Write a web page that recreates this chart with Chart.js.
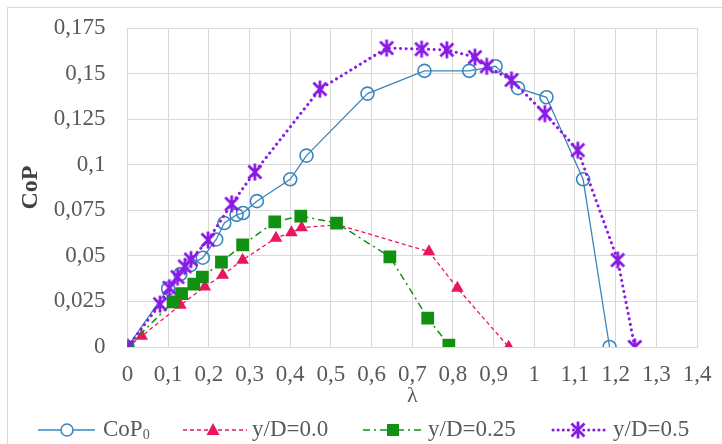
<!DOCTYPE html>
<html>
<head>
<meta charset="utf-8">
<script src="https://cdn.jsdelivr.net/npm/chart.js"></script>
<style>
  html, body { margin: 0; padding: 0; background: #fff; }
  #wrap { width: 722px; height: 444px; }
</style>
</head>
<body>
<div id="wrap"><canvas id="chart" width="722" height="444"></canvas></div>
<script>
// values
const copX = [0, 0.1, 0.13, 0.155, 0.185, 0.218, 0.238, 0.268, 0.284, 0.318, 0.4, 0.44, 0.59, 0.73, 0.84, 0.905, 0.96, 1.03, 1.12, 1.185];
const copY = [0, 0.032, 0.04, 0.045, 0.049, 0.059, 0.068, 0.0725, 0.0735, 0.08, 0.092, 0.105, 0.139, 0.1515, 0.1515, 0.154, 0.142, 0.137, 0.092, 0];

const d00X = [0, 0.035, 0.13, 0.19, 0.234, 0.283, 0.365, 0.403, 0.428, 0.518, 0.741, 0.811, 0.937];
const d00Y = [0, 0.006, 0.023, 0.033, 0.0395, 0.0477, 0.0598, 0.0628, 0.0655, 0.067, 0.0523, 0.0323, 0];

const d25X = [0, 0.112, 0.133, 0.163, 0.184, 0.231, 0.283, 0.362, 0.426, 0.514, 0.645, 0.738, 0.79];
const d25Y = [0, 0.0248, 0.0293, 0.0345, 0.0384, 0.0466, 0.056, 0.0687, 0.0718, 0.068, 0.0495, 0.0159, 0.001];

const d50X = [0, 0.08, 0.103, 0.123, 0.141, 0.156, 0.198, 0.256, 0.313, 0.473, 0.637, 0.723, 0.785, 0.854, 0.883, 0.944, 1.026, 1.107, 1.205, 1.247];
const d50Y = [0, 0.0235, 0.0325, 0.0384, 0.0442, 0.048, 0.0587, 0.0785, 0.096, 0.1415, 0.164, 0.1634, 0.163, 0.159, 0.154, 0.1465, 0.128, 0.108, 0.0477, 0];

const seriesNames = ['CoP', 'y/D=0.0', 'y/D=0.25', 'y/D=0.5'];
const xTickLabels = ['0', '0,1', '0,2', '0,3', '0,4', '0,5', '0,6', '0,7', '0,8', '0,9', '1', '1,1', '1,2', '1,3', '1,4'];
const yTickLabels = ['0', '0,025', '0,05', '0,075', '0,1', '0,125', '0,15', '0,175'];

const BLUE = '#3b86bd';
const PINK = '#e8175d';
const GREEN = '#119111';
const PURPLE = '#8b19e6';
const SERIF = '"Liberation Serif", "Times New Roman", serif';

function points(xs, ys) {
    return xs.map((x, i) => ({ x: x, y: ys[i] }));
}

// Excel-like asterisk marker (X plus a vertical bar)
function drawStar(ctx, x, y) {
    ctx.save();
    ctx.strokeStyle = PURPLE;
    ctx.lineWidth = 2.8;
    ctx.lineCap = 'butt';
    ctx.beginPath();
    ctx.moveTo(x - 6.5, y - 6.5); ctx.lineTo(x + 6.5, y + 6.5);
    ctx.moveTo(x + 6.5, y - 6.5); ctx.lineTo(x - 6.5, y + 6.5);
    ctx.moveTo(x, y - 8.5); ctx.lineTo(x, y + 8.5);
    ctx.stroke();
    ctx.restore();
}
const starImg = document.createElement('canvas');
starImg.width = 20;
starImg.height = 20;
drawStar(starImg.getContext('2d'), 10, 10);

// light frame round the whole figure
const framePlugin = {
    id: 'frame',
    beforeDraw(chart) {
        const ctx = chart.ctx;
        ctx.save();
        ctx.fillStyle = '#fff';
        ctx.fillRect(0, 0, chart.width, chart.height);
        ctx.strokeStyle = '#d9d9d9';
        ctx.lineWidth = 1;
        ctx.strokeRect(7.5, 7.5, 760, 480);
        ctx.restore();
    }
};

// legend with line + marker, as in Excel
const legendPlugin = {
    id: 'lineLegend',
    afterDraw(chart) {
        const ctx = chart.ctx;
        const y = 430;
        ctx.save();
        ctx.font = '23px ' + SERIF;
        ctx.fillStyle = '#595959';
        ctx.textBaseline = 'middle';

        // CoP0
        ctx.strokeStyle = BLUE;
        ctx.lineWidth = 1.5;
        ctx.beginPath(); ctx.moveTo(38, y); ctx.lineTo(95, y); ctx.stroke();
        ctx.beginPath(); ctx.arc(67, y, 6, 0, Math.PI * 2); ctx.fillStyle = '#fff'; ctx.fill(); ctx.stroke();
        ctx.fillStyle = '#595959';
        ctx.fillText(seriesNames[0], 103, y);
        const w = ctx.measureText(seriesNames[0]).width;
        ctx.font = '14px ' + SERIF;
        ctx.fillText('0', 103 + w, y + 5);
        ctx.font = '23px ' + SERIF;

        // y/D=0.0
        ctx.strokeStyle = PINK;
        ctx.lineWidth = 1.3;
        ctx.setLineDash([4, 3]);
        ctx.beginPath(); ctx.moveTo(183, y); ctx.lineTo(247, y); ctx.stroke();
        ctx.setLineDash([]);
        ctx.fillStyle = PINK;
        ctx.beginPath(); ctx.moveTo(213, y - 7); ctx.lineTo(219.5, y + 5); ctx.lineTo(206.5, y + 5); ctx.closePath(); ctx.fill();
        ctx.fillStyle = '#595959';
        ctx.fillText(seriesNames[1], 252, y);

        // y/D=0.25
        ctx.strokeStyle = GREEN;
        ctx.lineWidth = 1.5;
        ctx.setLineDash([7, 4, 2, 4]);
        ctx.beginPath(); ctx.moveTo(363, y); ctx.lineTo(423, y); ctx.stroke();
        ctx.setLineDash([]);
        ctx.fillStyle = GREEN;
        ctx.fillRect(387, y - 6, 12, 12);
        ctx.fillStyle = '#595959';
        ctx.fillText(seriesNames[2], 428, y);

        // y/D=0.5
        ctx.strokeStyle = PURPLE;
        ctx.lineWidth = 3;
        ctx.lineCap = 'round';
        ctx.setLineDash([0.1, 5]);
        ctx.beginPath(); ctx.moveTo(553, y); ctx.lineTo(605, y); ctx.stroke();
        ctx.setLineDash([]);
        drawStar(ctx, 578, y);
        ctx.fillStyle = '#595959';
        ctx.fillText(seriesNames[3], 613, y);
        ctx.restore();
    }
};

const ctx = document.getElementById('chart').getContext('2d');
new Chart(ctx, {
    type: 'scatter',
    data: {
        datasets: [
            {
                label: seriesNames[0],
                data: points(copX, copY),
                showLine: true,
                order: 4,
                borderColor: BLUE,
                borderWidth: 1.3,
                pointStyle: 'circle',
                pointRadius: 6.5,
                pointBorderWidth: 1.6,
                pointBorderColor: BLUE,
                pointBackgroundColor: 'rgba(255,255,255,0)'
            },
            {
                label: seriesNames[1],
                data: points(d00X, d00Y),
                showLine: true,
                order: 3,
                borderColor: PINK,
                borderWidth: 1.3,
                borderDash: [4, 3],
                pointStyle: 'triangle',
                pointRadius: 7.3,
                pointBorderWidth: 0,
                pointBackgroundColor: PINK
            },
            {
                label: seriesNames[2],
                data: points(d25X, d25Y),
                showLine: true,
                order: 2,
                borderColor: GREEN,
                borderWidth: 1.5,
                borderDash: [7, 4, 2, 4],
                pointStyle: 'rect',
                pointRadius: 9,
                pointBorderWidth: 0,
                pointBackgroundColor: GREEN
            },
            {
                label: seriesNames[3],
                data: points(d50X, d50Y),
                showLine: true,
                order: 1,
                borderColor: PURPLE,
                borderWidth: 3,
                borderDash: [0.1, 5.5],
                borderCapStyle: 'round',
                pointStyle: starImg,
                pointRadius: 9
            }
        ]
    },
    options: {
        responsive: false,
        animation: false,
        devicePixelRatio: 1,
        layout: { autoPadding: false, padding: { left: 16, right: 25, top: 28, bottom: 35 } },
        plugins: {
            legend: { display: false },
            tooltip: { enabled: false }
        },
        scales: {
            x: {
                type: 'linear',
                min: 0,
                max: 1.4,
                afterFit: s => {
                    s.height = 62;
                    s.paddingLeft = 0;
                    s.paddingRight = 0;
                },
                grid: { color: '#d9d9d9', drawTicks: false },
                border: { color: '#d9d9d9' },
                ticks: {
                    stepSize: 0.1,
                    padding: 14,
                    maxRotation: 0,
                    autoSkip: false,
                    color: '#595959',
                    font: { family: SERIF, size: 23 },
                    callback: (v, i) => xTickLabels[i] !== undefined ? xTickLabels[i] : String(v).replace('.', ',')
                },
                title: {
                    display: true,
                    text: 'λ',
                    color: '#595959',
                    padding: 0,
                    font: { family: SERIF, size: 22 }
                }
            },
            y: {
                type: 'linear',
                min: 0,
                max: 0.175,
                afterFit: s => {
                    s.width = 111.5;
                    s.paddingTop = 0;
                    s.paddingBottom = 0;
                },
                grid: { color: '#d9d9d9', drawTicks: false },
                border: { color: '#d9d9d9' },
                ticks: {
                    stepSize: 0.025,
                    padding: 22,
                    color: '#595959',
                    font: { family: SERIF, size: 23 },
                    callback: (v, i) => yTickLabels[i] !== undefined ? yTickLabels[i] : String(v).replace('.', ',')
                },
                title: {
                    display: true,
                    text: 'CoP',
                    color: '#404040',
                    padding: 0,
                    font: { family: SERIF, size: 24, weight: 'bold' }
                }
            }
        }
    },
    plugins: [framePlugin, legendPlugin]
});
</script>
</body>
</html>
